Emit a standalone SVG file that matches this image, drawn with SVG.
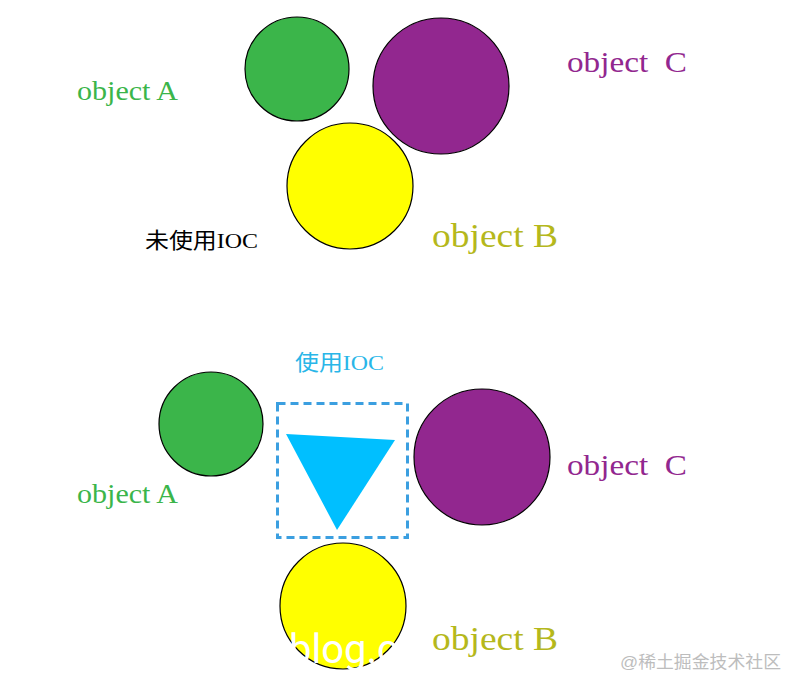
<svg xmlns="http://www.w3.org/2000/svg" width="788" height="678" viewBox="0 0 788 678">
<style>
.c{stroke:#000;stroke-width:1.2}
.g{fill:#3BB54A}
.p{fill:#92278F}
.y{fill:#FFFF00}
.t{font-family:"Liberation Serif","DejaVu Serif",serif}
.ta{fill:#3BB54A;font-size:28px}
.tc{fill:#92278F;font-size:30px}
.tb{fill:#B5B81C;font-size:34px}
.cn{font-family:"Liberation Serif","Noto Sans CJK SC",serif;font-size:22px}
</style>
<rect width="788" height="678" fill="#fff"/>
<g id="top-a"><circle class="c g" cx="297" cy="69" r="52"/><text class="t ta" x="77" y="100" textLength="101" lengthAdjust="spacingAndGlyphs">object A</text></g>
<g id="top-c"><circle class="c p" cx="441" cy="86" r="68"/><text class="t tc" x="567" y="72" textLength="120" lengthAdjust="spacingAndGlyphs" xml:space="preserve">object  C</text></g>
<g id="top-b"><circle class="c y" cx="350" cy="186" r="63"/><text class="t tb" x="432" y="247" textLength="126" lengthAdjust="spacingAndGlyphs">object B</text></g>
<g id="label-noioc"><text class="cn" x="145" y="248" fill="#000" textLength="113" lengthAdjust="spacingAndGlyphs">未使用IOC</text></g>
<g id="label-ioc"><text class="cn" x="295" y="370" fill="#29B6E8" textLength="89" lengthAdjust="spacingAndGlyphs">使用IOC</text></g>
<g id="bot-a"><circle class="c g" cx="211" cy="424" r="52"/><text class="t ta" x="77" y="503" textLength="101" lengthAdjust="spacingAndGlyphs">object A</text></g>
<g id="ioc"><rect x="277.5" y="403.5" width="130" height="134" fill="none" stroke="#3B9FE0" stroke-width="3" stroke-dasharray="8,5"/><polygon points="286,434 395,440 337,530" fill="#00BFFF"/></g>
<g id="bot-c"><circle class="c p" cx="482" cy="457" r="68"/><text class="t tc" x="567" y="475" textLength="120" lengthAdjust="spacingAndGlyphs" xml:space="preserve">object  C</text></g>
<g id="bot-b"><circle class="c y" cx="343" cy="606" r="63"/><text class="t tb" x="432" y="650" textLength="126" lengthAdjust="spacingAndGlyphs">object B</text></g>
<g id="connectors"></g>
<text x="289" y="663" fill="#fff" font-family="Roboto,'Liberation Sans',sans-serif" font-size="40">blog.c</text>
<text x="620" y="668" fill="#BDBDBD" font-family="'Liberation Sans','Noto Sans CJK SC',sans-serif" font-size="17" textLength="161" lengthAdjust="spacingAndGlyphs">@稀土掘金技术社区</text>
</svg>
